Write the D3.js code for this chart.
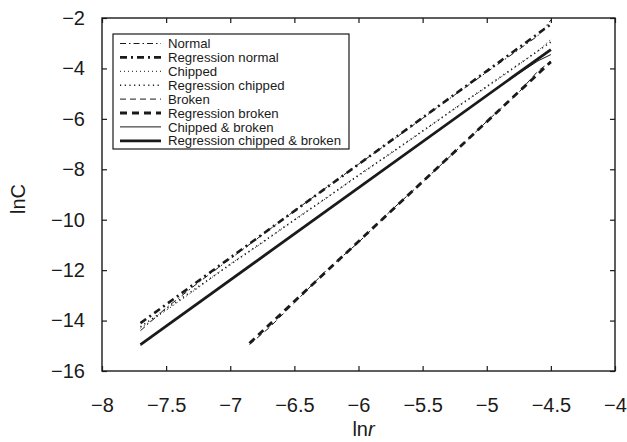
<!DOCTYPE html>
<html><head><meta charset="utf-8">
<script src="https://cdn.jsdelivr.net/npm/d3@7"></script>
<style>body{margin:0;background:#fff}</style>
</head><body>
<svg id="c" width="627" height="442"></svg>
<script>
// ---- data ----
const xTicks = [-8, -7.5, -7, -6.5, -6, -5.5, -5, -4.5, -4];
const yTicks = [-16, -14, -12, -10, -8, -6, -4, -2];
const rawX = [-7.7, -7.5, -7.25, -7.0, -6.75, -6.5, -6.25, -6.0, -5.75, -5.5, -5.25, -5.0, -4.75, -4.6, -4.5];
const normalY = [-14.4, -13.5, -12.5, -11.55, -10.6, -9.65, -8.72, -7.8, -6.9, -5.98, -5.05, -4.15, -3.25, -2.7, -2.08];
const chippedY = [-14.3, -13.6, -12.7, -11.75, -10.92, -10.0, -9.15, -8.22, -7.38, -6.5, -5.58, -4.74, -3.85, -3.3, -2.85];
const chBrY = [-14.98, -14.2, -13.32, -12.37, -11.5, -10.55, -9.66, -8.72, -7.83, -6.9, -6.0, -5.06, -4.2, -3.7, -3.45];
const brokenX = [-6.85, -6.7, -6.5, -6.25, -6.0, -5.75, -5.5, -5.25, -5.0, -4.75, -4.6, -4.5];
const brokenY = [-14.95, -14.3, -13.3, -12.0, -10.9, -9.65, -8.5, -7.32, -6.1, -4.95, -4.1, -3.72];
// regression end points [x0, y0, x1, y1]
const regNormal = [-7.7, -14.1, -4.5, -2.25];
const regChipped = [-7.7, -14.25, -4.5, -2.95];
const regBroken = [-6.85, -14.9, -4.5, -3.74];
const regChBr = [-7.7, -14.95, -4.5, -3.25];
const legendLabels = ["Normal", "Regression normal", "Chipped", "Regression chipped", "Broken", "Regression broken", "Chipped & broken", "Regression chipped & broken"];

// ---- chart ----
const svg = d3.select("#c");
const L = 102, R = 615, T = 18, B = 371;
const x = d3.scaleLinear().domain([-8, -4]).range([L, R]);
const y = d3.scaleLinear().domain([-16, -2]).range([B, T]);
const col = "#1a1a1a";
const font = "Liberation Sans, Arial, sans-serif";

const styles = [
  {w: 1, d: "6,3,1.5,3"},
  {w: 2.6, d: "7,4,2,4"},
  {w: 1, d: "1,3"},
  {w: 1.6, d: "1.2,3.5"},
  {w: 1, d: "6,4"},
  {w: 2.8, d: "7,5"},
  {w: 1, d: null},
  {w: 2.8, d: null}
];

const line = d3.line().x(d => x(d[0])).y(d => y(d[1]));
function zip(xs, ys) { return xs.map((v, i) => [v, ys[i]]); }
function reg(r) { return [[r[0], r[1]], [r[2], r[3]]]; }

const series = [
  zip(rawX, normalY), reg(regNormal),
  zip(rawX, chippedY), reg(regChipped),
  zip(brokenX, brokenY), reg(regBroken),
  zip(rawX, chBrY), reg(regChBr)
];

const g = svg.append("g");
series.forEach((s, i) => {
  g.append("path").attr("d", line(s)).attr("fill", "none")
    .attr("stroke", col).attr("stroke-width", styles[i].w)
    .attr("stroke-dasharray", styles[i].d);
});

const fmt = d => d3.format("")(d).replace("-", "\u2212");
// axes: box with inward ticks
const ax = svg.append("g");
ax.append("g").attr("transform", `translate(0,${B})`)
  .call(d3.axisBottom(x).tickValues(xTicks).tickSizeInner(-5).tickSizeOuter(0).tickPadding(27).tickFormat(fmt))
  .call(a => a.select(".domain").remove())
  .selectAll("text").attr("font-size", 20).attr("font-family", font).attr("fill", col);
ax.append("g").attr("transform", `translate(0,${T})`)
  .call(d3.axisTop(x).tickValues(xTicks).tickSizeInner(-5).tickSizeOuter(0).tickFormat(""))
  .call(a => a.select(".domain").remove());
ax.append("g").attr("transform", `translate(${L},0)`)
  .call(d3.axisLeft(y).tickValues(yTicks).tickSizeInner(-5).tickSizeOuter(0).tickPadding(17).tickFormat(fmt))
  .call(a => a.select(".domain").remove())
  .selectAll("text").attr("font-size", 20).attr("font-family", font).attr("fill", col);
ax.append("g").attr("transform", `translate(${R},0)`)
  .call(d3.axisRight(y).tickValues(yTicks).tickSizeInner(-5).tickSizeOuter(0).tickFormat(""))
  .call(a => a.select(".domain").remove());
ax.selectAll(".tick line").attr("stroke", col).attr("stroke-width", 1.2);
svg.append("rect").attr("x", L).attr("y", T).attr("width", R - L).attr("height", B - T)
  .attr("fill", "none").attr("stroke", col).attr("stroke-width", 1.4);

// axis labels
const xl = svg.append("text").attr("x", (L + R) / 2 + 5).attr("y", 436).attr("text-anchor", "middle")
  .attr("font-size", 20).attr("font-family", font).attr("fill", col);
xl.append("tspan").text("ln");
xl.append("tspan").attr("font-style", "italic").text("r");
svg.append("text").attr("transform", `translate(25,199) rotate(-90)`)
  .attr("text-anchor", "middle").attr("font-size", 20).attr("font-family", font).attr("fill", col)
  .text("lnC");

// legend
const lg = svg.append("g");
lg.append("rect").attr("x", 113).attr("y", 34).attr("width", 236).attr("height", 115)
  .attr("fill", "#fff").attr("stroke", col).attr("stroke-width", 1.2);
legendLabels.forEach((t, i) => {
  const yy = 43.5 + i * 13.9;
  lg.append("line").attr("x1", 120).attr("x2", 161).attr("y1", yy).attr("y2", yy)
    .attr("stroke", col).attr("stroke-width", styles[i].w).attr("stroke-dasharray", styles[i].d);
  lg.append("text").attr("x", 168).attr("y", yy + 4.6).attr("font-size", 13.2)
    .attr("font-family", font).attr("fill", col).text(t);
});
</script>
</body></html>
